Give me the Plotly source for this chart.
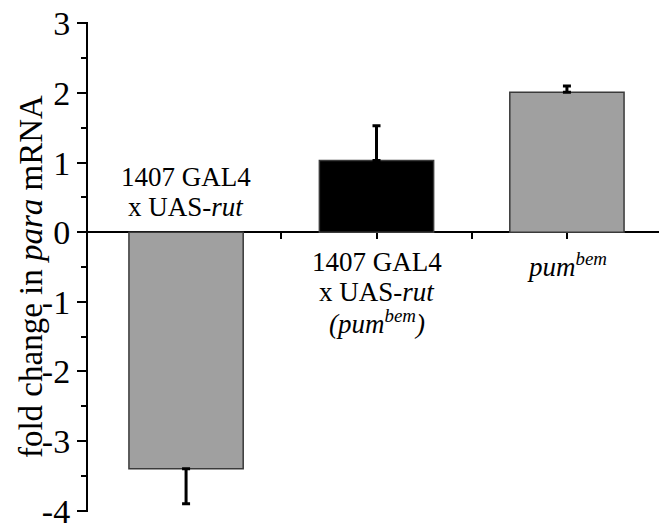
import plotly.graph_objects as go

categories = ["1407 GAL4 x UAS-rut", "1407 GAL4 x UAS-rut (pum-bem)", "pum-bem"]
label_lines = [
    ["1407 GAL4", "x UAS-<i>rut</i>"],
    ["1407 GAL4", "x UAS-<i>rut</i>", "<i>(pum<sup>bem</sup>)</i>"],
    ["<i>pum<sup>bem</sup></i>"],
]
label_first_y = [0.79, -0.43, -0.47]
values = [-3.4, 1.03, 2.01]
errors = [0.5, 0.5, 0.09]
colors = ["#a0a0a0", "#000000", "#a0a0a0"]
ytick_vals = [-4, -3, -2, -1, 0, 1, 2, 3]
ytick_text = ["-4", "-3", "-2", "-1", "0", "1", "2", "3"]
y_title = "fold change in <i>para</i> mRNA"

xs = list(range(len(values)))
FONT = "Liberation Serif"

fig = go.Figure()
fig.add_trace(go.Bar(
    x=xs, y=values, width=0.6,
    marker=dict(color=colors, line=dict(color="#3a3a3a", width=1.5)),
    error_y=dict(type="data", symmetric=False,
                 array=[0 if v < 0 else e for v, e in zip(values, errors)],
                 arrayminus=[e if v < 0 else 0 for v, e in zip(values, errors)],
                 color="black", thickness=3, width=4),
    showlegend=False,
))

ymin, ymax = -4.02, 3.02
zero_pos = (0 - ymin) / (ymax - ymin)

fig.update_layout(
    width=659, height=519,
    margin=dict(l=80, r=2, t=14, b=15),
    plot_bgcolor="white", paper_bgcolor="white",
    font=dict(family=FONT, color="black"),
    xaxis=dict(range=[-0.515, 2.515], anchor="free", position=zero_pos,
               showline=True, linecolor="black", linewidth=2,
               tickvals=[0, 0.5, 1, 1.5, 2], ticks="outside", ticklen=6,
               tickwidth=2, tickcolor="black", showticklabels=False,
               showgrid=False, zeroline=False, layer="below traces",
               automargin=False),
    yaxis=dict(range=[ymin, ymax], showline=True, linecolor="black", linewidth=2,
               tickvals=ytick_vals, ticktext=ytick_text, ticks="outside",
               ticklen=9, tickwidth=2, tickcolor="black",
               tickfont=dict(size=34, family=FONT),
               ticklabeloverflow="allow",
               minor=dict(dtick=0.5, ticks="outside", ticklen=5, tickwidth=2,
                          tickcolor="black"),
               showgrid=False, zeroline=False, automargin=False),
)

# y-axis title as rotated annotation
fig.add_annotation(xref="paper", yref="y", x=-0.1, y=-0.64, text=y_title,
                   textangle=-90, showarrow=False, xanchor="center",
                   yanchor="middle", font=dict(size=33, family=FONT))

# category labels, one annotation per line
line_step = 0.43
for x, lines, y0 in zip(xs, label_lines, label_first_y):
    for i, line in enumerate(lines):
        fig.add_annotation(x=x, y=y0 - i * line_step, text=line, showarrow=False,
                           yanchor="middle", xanchor="center",
                           font=dict(size=27, family=FONT))

fig.write_html("out.html")
